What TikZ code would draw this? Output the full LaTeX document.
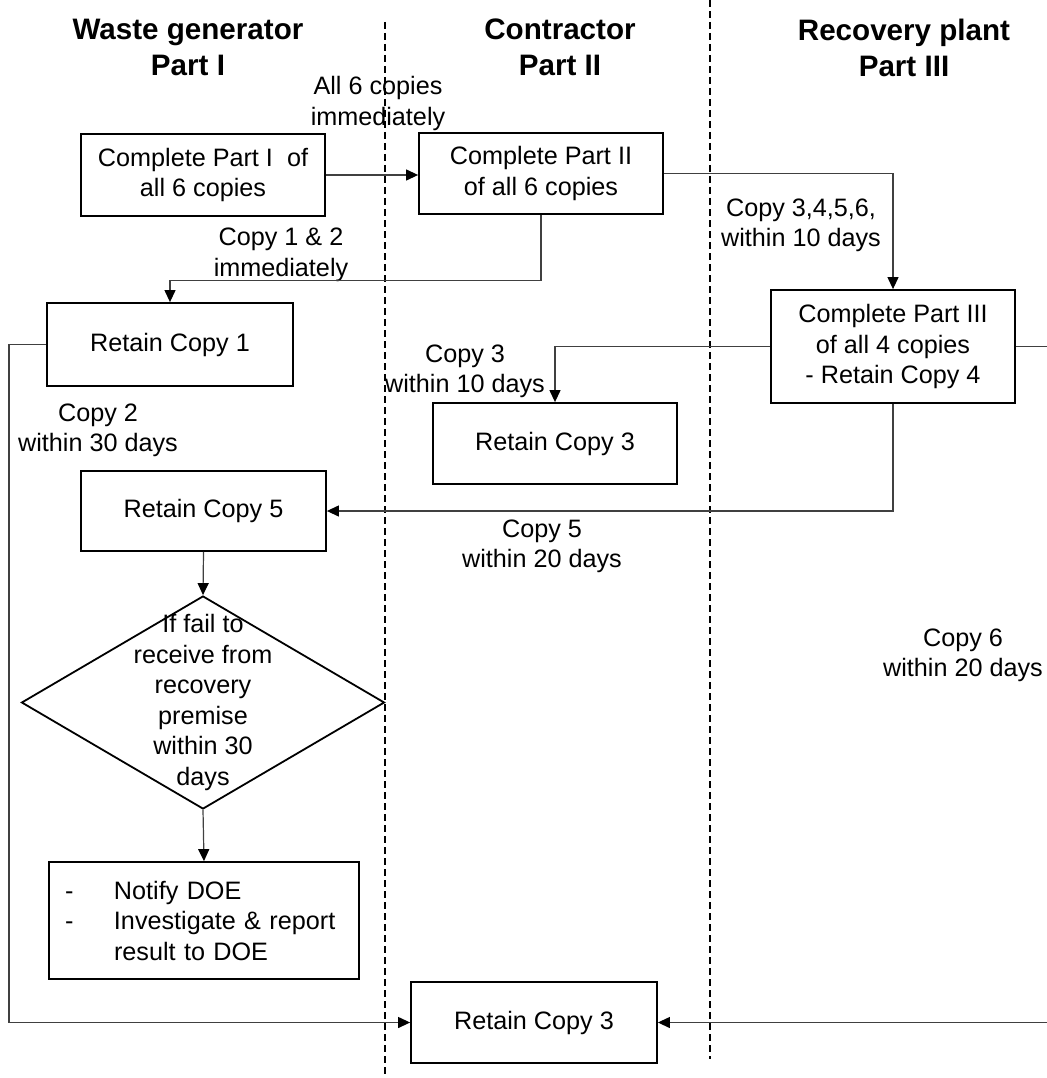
\documentclass[tikz,border=0pt]{standalone}
\usepackage{fontspec}
\setmainfont{Liberation Sans}
\usetikzlibrary{arrows.meta,shapes.geometric,calc}
\begin{document}
\begin{tikzpicture}[x=1pt,y=-1pt,
  body/.style={font=\fontsize{25.2pt}{30.5pt}\selectfont},
  box/.style={draw, line width=1.8pt, align=center, inner sep=0pt, body},
  lbl/.style={align=center, inner sep=0pt, body},
  ttl/.style={align=center, inner sep=0pt, font=\fontsize{29.6pt}{36pt}\selectfont\bfseries},
  conn/.style={draw=black!75, line width=1.2pt, -{Triangle[length=12pt,width=11pt,fill=black,color=black]}},
  lane/.style={line width=1.5pt, dash pattern=on 7pt off 4pt}
]
\useasboundingbox (0,0) rectangle (1046,1078);

% swimlane separators
\coordinate (l1t) at (385,22);
\coordinate (l1b) at (385,1078);
\coordinate (l2t) at (710,0);
\coordinate (l2b) at (710,1059);
\draw[lane] (l1t) -- (l1b);
\draw[lane] (l2t) -- (l2b);

% titles
\node[ttl] (t1) at (188,47.5) {Waste generator\\Part I};
\node[ttl] (t2) at (560,47.5) {Contractor\\Part II};
\node[ttl] (t3) at (904,47.5) {Recovery plant\\Part III};

% boxes
\node[box, minimum width=244pt, minimum height=82pt] (b1) at (203,175) {Complete Part I \ of\\all 6 copies};
\node[box, minimum width=244pt, minimum height=81pt] (b2) at (541,173.5) {Complete Part II\\of all 6 copies};
\node[box, minimum width=246pt, minimum height=83pt] (rc1) at (170,344.5) {Retain Copy 1};
\node[box, minimum width=244pt, minimum height=113pt] (b3) at (893,346.5) {Complete Part III\\of all 4 copies\\- Retain Copy 4};
\node[box, minimum width=244pt, minimum height=81pt] (rc3a) at (555,443.5) {Retain Copy 3};
\node[box, minimum width=245pt, minimum height=80pt] (rc5) at (203.5,511) {Retain Copy 5};
\node[diamond, draw, line width=1.8pt, minimum width=363pt, minimum height=213pt, inner sep=0pt] (dia) at (203,702.5) {};
\node[lbl] (diat) at (dia.center) {If fail to\\receive from\\recovery\\premise\\within 30\\days};
\node[box, text width=278pt, inner xsep=16pt, minimum height=117pt, align=left] (notify) at (204,920.5)
  {\makebox[49pt][l]{-}Notify DOE\\\makebox[49pt][l]{-}Investigate \& report\\\hspace*{49pt}result to DOE};
\node[box, minimum width=246pt, minimum height=81pt] (rc3b) at (534,1022.5) {Retain Copy 3};

% labels
\node[lbl] (L1) at (378,103.5) {All 6 copies\\immediately};
\node[lbl] (L2) at (281,255) {Copy 1 \& 2\\immediately};
\node[lbl] (L3) at (801,225.5) {Copy 3,4,5,6,\\within 10 days};
\node[lbl] (L4) at (465,371.5) {Copy 3\\within 10 days};
\node[lbl] (L5) at (98,430.5) {Copy 2\\within 30 days};
\node[lbl] (L6) at (542,546.5) {Copy 5\\within 20 days};
\node[lbl] (L7) at (963,655.5) {Copy 6\\within 20 days};

% connectors
\coordinate (lc) at (9,0);
\draw[conn] (b1.east) -- (b1.east -| b2.west);
\draw[conn] (b2.south) |- ($(rc1.north)+(0,-22)$) -- (rc1.north);
\draw[conn] (b2.east) -| (b3.north);
\draw[conn] (b3.west) -| (rc3a.north);
\draw[conn] (b3.south) |- (rc5.east);
\draw[conn] (b3.east) -- ++(70,0) |- (rc3b.east);
\draw[conn] (rc1.west) -| (lc |- rc3b.west) -- (rc3b.west);
\draw[conn] (rc5.south) -- (dia.north);
\draw[conn] (dia.south) -- (notify.north);
\end{tikzpicture}
\end{document}
